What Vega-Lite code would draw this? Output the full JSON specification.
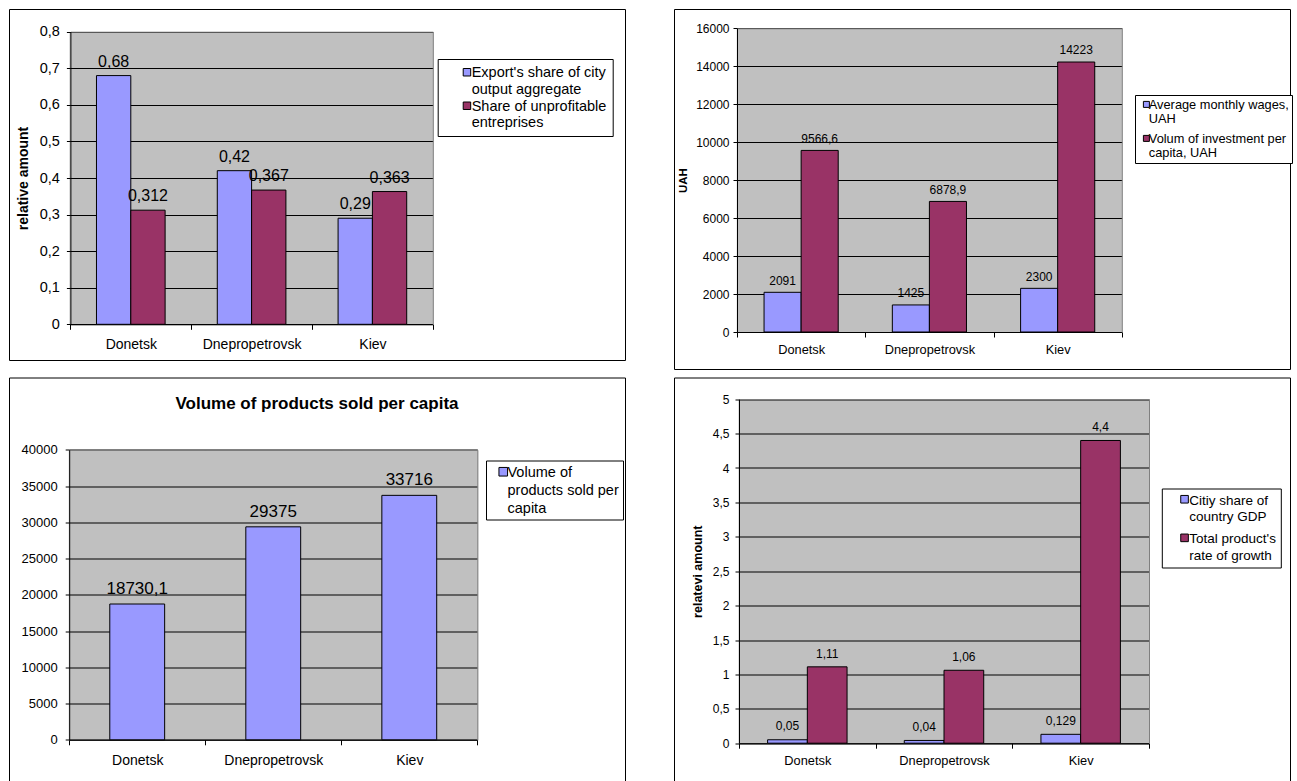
{
  "$schema": "https://vega.github.io/schema/vega-lite/v6.json",
  "padding": {"left": 8, "top": 8, "right": 0, "bottom": -6},
  "spacing": 6.5,
  "resolve": {"scale": {"color": "independent", "x": "independent", "y": "independent", "xOffset": "independent"}, "legend": {"color": "independent"}},
  "vconcat": [
    {
      "bounds": "flush",
      "spacing": 49,
      "resolve": {"scale": {"color": "independent", "x": "independent", "y": "independent", "xOffset": "independent"}, "legend": {"color": "independent"}},
      "hconcat": [
        {
          "width": 616,
          "height": 351,
          "data": {"values": [
            {"city": "Donetsk", "series": "Export's share of city output aggregate", "value": 0.68},
            {"city": "Donetsk", "series": "Share of unprofitable entreprises", "value": 0.312},
            {"city": "Dnepropetrovsk", "series": "Export's share of city output aggregate", "value": 0.42},
            {"city": "Dnepropetrovsk", "series": "Share of unprofitable entreprises", "value": 0.367},
            {"city": "Kiev", "series": "Export's share of city output aggregate", "value": 0.29},
            {"city": "Kiev", "series": "Share of unprofitable entreprises", "value": 0.363}
          ]},
          "layer": [
            {
              "mark": {"type": "bar", "stroke": "black", "strokeWidth": 1},
              "encoding": {
                "x": {"field": "city", "type": "nominal", "sort": ["Donetsk", "Dnepropetrovsk", "Kiev"],
                  "scale": {"range": [61.4, 423.8], "paddingInner": 0, "paddingOuter": 0},
                  "axis": {"orient": "bottom", "offset": -35.7, "title": null, "labelAngle": 0, "tickBand": "extent", "tickSize": 5, "labelPadding": 8, "labelFontSize": 14, "grid": false}},
                "xOffset": {"field": "series", "type": "nominal", "sort": ["Export's share of city output aggregate", "Share of unprofitable entreprises"],
                  "scale": {"paddingInner": 0, "paddingOuter": 0.76}},
                "y": {"field": "value", "type": "quantitative",
                  "scale": {"domain": [0, 0.8], "range": [315.3, 22.7], "nice": false},
                  "axis": {"orient": "left", "offset": -61.4, "title": "relative amount", "titleFontSize": 14, "titleX": -47, "titleBaseline": "middle", "tickCount": 8, "format": "~r", "grid": true, "tickSize": 4, "labelPadding": 7, "labelFontSize": 14.5}},
                "color": {"field": "series", "type": "nominal",
                  "scale": {"domain": ["Export's share of city output aggregate", "Share of unprofitable entreprises"], "range": ["#9999FF", "#993366"]},
                  "legend": {"orient": "none", "legendX": 428.7, "legendY": 50, "title": null, "padding": 6, "symbolSize": 56, "symbolOffset": 16, "labelOffset": -2.5, "labelFontSize": 14.5, "labelBaseline": "top", "rowPadding": 1.5,
                    "labelExpr": "datum.label == \"Export's share of city output aggregate\" ? [\"Export's share of city\", \"output aggregate\"] : [\"Share of unprofitable\", \"entreprises\"]",
                    "encode": {"labels": {"update": {"dy": {"value": -6}, "lineHeight": {"value": 16.7}}}}}}
              }
            },
            {
              "mark": {"type": "text", "fontSize": 16, "baseline": "alphabetic", "dy": -9, "color": "black"},
              "encoding": {
                "x": {"field": "city", "type": "nominal", "sort": ["Donetsk", "Dnepropetrovsk", "Kiev"],
                  "axis": {"orient": "top", "offset": -22.7, "title": null, "labels": false, "ticks": false, "domainColor": "#808080", "grid": true, "gridColor": "#C0C0C0", "gridWidth": 122, "tickBand": "center"}},
                "xOffset": {"field": "series", "type": "nominal", "sort": ["Export's share of city output aggregate", "Share of unprofitable entreprises"]},
                "y": {"field": "value", "type": "quantitative",
                  "axis": {"orient": "right", "offset": -192.2, "title": null, "labels": false, "ticks": false, "grid": false, "domainColor": "#808080"}},
                "text": {"field": "value", "type": "quantitative", "format": "~r"}
              }
            }
          ]
        },
        {
          "width": 616,
          "height": 360,
          "data": {"values": [
            {"city": "Donetsk", "series": "Average monthly wages, UAH", "value": 2091},
            {"city": "Donetsk", "series": "Volum of investment per capita, UAH", "value": 9566.6},
            {"city": "Dnepropetrovsk", "series": "Average monthly wages, UAH", "value": 1425},
            {"city": "Dnepropetrovsk", "series": "Volum of investment per capita, UAH", "value": 6878.9},
            {"city": "Kiev", "series": "Average monthly wages, UAH", "value": 2300},
            {"city": "Kiev", "series": "Volum of investment per capita, UAH", "value": 14223}
          ]},
          "layer": [
            {
              "mark": {"type": "bar", "stroke": "black", "strokeWidth": 1},
              "encoding": {
                "x": {"field": "city", "type": "nominal", "sort": ["Donetsk", "Dnepropetrovsk", "Kiev"],
                  "scale": {"range": [63, 447.8], "paddingInner": 0, "paddingOuter": 0},
                  "axis": {"orient": "bottom", "offset": -37, "title": null, "labelAngle": 0, "tickBand": "extent", "tickSize": 5, "labelPadding": 6.5, "labelFontSize": 12.8, "grid": false}},
                "xOffset": {"field": "series", "type": "nominal", "sort": ["Average monthly wages, UAH", "Volum of investment per capita, UAH"],
                  "scale": {"paddingInner": 0, "paddingOuter": 0.73}},
                "y": {"field": "value", "type": "quantitative",
                  "scale": {"domain": [0, 16000], "range": [323, 19.3], "nice": false},
                  "axis": {"orient": "left", "offset": -63, "title": "UAH", "titleFontSize": 11.5, "titleX": -54, "titleBaseline": "middle", "tickCount": 8, "format": "~r", "grid": true, "tickSize": 4, "labelPadding": 4, "labelFontSize": 12}},
                "color": {"field": "series", "type": "nominal",
                  "scale": {"domain": ["Average monthly wages, UAH", "Volum of investment per capita, UAH"], "range": ["#9999FF", "#993366"]},
                  "legend": {"orient": "none", "legendX": 461, "legendY": 86, "title": null, "padding": 3, "symbolSize": 36, "symbolOffset": 2, "labelOffset": -4, "labelFontSize": 12.8, "labelBaseline": "top", "rowPadding": 6,
                    "labelExpr": "datum.label == 'Average monthly wages, UAH' ? ['Average monthly wages,', 'UAH'] : ['Volum of investment per', 'capita, UAH']",
                    "encode": {"labels": {"update": {"dy": {"value": -5.2}, "lineHeight": {"value": 13.6}}}}}}
              }
            },
            {
              "mark": {"type": "text", "fontSize": 12, "baseline": "alphabetic", "dy": -7.7, "color": "black"},
              "encoding": {
                "x": {"field": "city", "type": "nominal", "sort": ["Donetsk", "Dnepropetrovsk", "Kiev"],
                  "axis": {"orient": "top", "offset": -19.3, "title": null, "labels": false, "ticks": false, "domainColor": "#808080", "grid": true, "gridColor": "#C0C0C0", "gridWidth": 129.5, "tickBand": "center"}},
                "xOffset": {"field": "series", "type": "nominal", "sort": ["Average monthly wages, UAH", "Volum of investment per capita, UAH"]},
                "y": {"field": "value", "type": "quantitative",
                  "axis": {"orient": "right", "offset": -168.2, "title": null, "labels": false, "ticks": false, "grid": false, "domainColor": "#808080"}},
                "text": {"field": "value", "type": "quantitative", "format": "~r"}
              }
            }
          ]
        }
      ]
    },
    {
      "bounds": "flush",
      "spacing": 49,
      "resolve": {"scale": {"color": "independent", "x": "independent", "y": "independent", "xOffset": "independent"}, "legend": {"color": "independent"}},
      "hconcat": [
        {
          "width": 616,
          "height": 410,
          "title": {"text": "Volume of products sold per capita", "fontSize": 17, "anchor": "middle", "frame": "group", "baseline": "middle", "offset": -43.5},
          "data": {"values": [
            {"city": "Donetsk", "series": "Volume of products sold per capita", "value": 18730.1},
            {"city": "Dnepropetrovsk", "series": "Volume of products sold per capita", "value": 29375},
            {"city": "Kiev", "series": "Volume of products sold per capita", "value": 33716}
          ]},
          "layer": [
            {
              "mark": {"type": "bar", "stroke": "black", "strokeWidth": 1},
              "encoding": {
                "x": {"field": "city", "type": "nominal", "sort": ["Donetsk", "Dnepropetrovsk", "Kiev"],
                  "scale": {"range": [60.2, 468.3], "paddingInner": 0, "paddingOuter": 0},
                  "axis": {"orient": "bottom", "offset": -47.7, "title": null, "labelAngle": 0, "tickBand": "extent", "tickSize": 5, "labelPadding": 9, "labelFontSize": 14, "grid": false}},
                "xOffset": {"field": "series", "type": "nominal",
                  "scale": {"paddingInner": 0, "paddingOuter": 0.74}},
                "y": {"field": "value", "type": "quantitative",
                  "scale": {"domain": [0, 40000], "range": [362.3, 72.3], "nice": false},
                  "axis": {"orient": "left", "offset": -60.2, "title": null, "tickCount": 8, "format": "~r", "grid": true, "tickSize": 4, "labelPadding": 8, "labelFontSize": 13}},
                "color": {"field": "series", "type": "nominal",
                  "scale": {"domain": ["Volume of products sold per capita"], "range": ["#9999FF"]},
                  "legend": {"orient": "none", "legendX": 477, "legendY": 83, "title": null, "padding": 4, "symbolSize": 74, "symbolOffset": 6, "labelOffset": -3, "labelFontSize": 14.5, "labelBaseline": "top",
                    "labelExpr": "['Volume of', 'products sold per', 'capita']",
                    "encode": {"labels": {"update": {"dy": {"value": -6}, "lineHeight": {"value": 18}}}}}}
              }
            },
            {
              "mark": {"type": "text", "fontSize": 17, "baseline": "alphabetic", "dy": -10.3, "color": "black"},
              "encoding": {
                "x": {"field": "city", "type": "nominal", "sort": ["Donetsk", "Dnepropetrovsk", "Kiev"],
                  "axis": {"orient": "top", "offset": -72.3, "title": null, "labels": false, "ticks": false, "domainColor": "#808080", "grid": true, "gridColor": "#C0C0C0", "gridWidth": 137.5, "tickBand": "center"}},
                "xOffset": {"field": "series", "type": "nominal"},
                "y": {"field": "value", "type": "quantitative",
                  "axis": {"orient": "right", "offset": -147.7, "title": null, "labels": false, "ticks": false, "grid": false, "domainColor": "#808080"}},
                "text": {"field": "value", "type": "quantitative", "format": "~r"}
              }
            }
          ]
        },
        {
          "width": 616,
          "height": 410,
          "data": {"values": [
            {"city": "Donetsk", "series": "Citiy share of country GDP", "value": 0.05},
            {"city": "Donetsk", "series": "Total product's rate of growth", "value": 1.11},
            {"city": "Dnepropetrovsk", "series": "Citiy share of country GDP", "value": 0.04},
            {"city": "Dnepropetrovsk", "series": "Total product's rate of growth", "value": 1.06},
            {"city": "Kiev", "series": "Citiy share of country GDP", "value": 0.129},
            {"city": "Kiev", "series": "Total product's rate of growth", "value": 4.4}
          ]},
          "layer": [
            {
              "mark": {"type": "bar", "stroke": "black", "strokeWidth": 1},
              "encoding": {
                "x": {"field": "city", "type": "nominal", "sort": ["Donetsk", "Dnepropetrovsk", "Kiev"],
                  "scale": {"range": [65, 475], "paddingInner": 0, "paddingOuter": 0},
                  "axis": {"orient": "bottom", "offset": -44.3, "title": null, "labelAngle": 0, "tickBand": "extent", "tickSize": 5, "labelPadding": 6, "labelFontSize": 12.8, "grid": false}},
                "xOffset": {"field": "series", "type": "nominal", "sort": ["Citiy share of country GDP", "Total product's rate of growth"],
                  "scale": {"paddingInner": 0, "paddingOuter": 0.72}},
                "y": {"field": "value", "type": "quantitative",
                  "scale": {"domain": [0, 5], "range": [365.7, 21.7], "nice": false},
                  "axis": {"orient": "left", "offset": -65, "title": "relatevi amount", "titleFontSize": 12.5, "titleX": -42, "titleBaseline": "middle", "tickCount": 10, "format": "~r", "grid": true, "tickSize": 4, "labelPadding": 6, "labelFontSize": 12}},
                "color": {"field": "series", "type": "nominal",
                  "scale": {"domain": ["Citiy share of country GDP", "Total product's rate of growth"], "range": ["#9999FF", "#993366"]},
                  "legend": {"orient": "none", "legendX": 487.8, "legendY": 111, "title": null, "padding": 4, "symbolSize": 58, "symbolOffset": 12, "labelOffset": -2, "labelFontSize": 13.5, "labelBaseline": "top", "rowPadding": 6.6,
                    "labelExpr": "datum.label == 'Citiy share of country GDP' ? ['Citiy share of', 'country GDP'] : [\"Total product's\", 'rate of growth']",
                    "encode": {"labels": {"update": {"dy": {"value": -5.5}, "lineHeight": {"value": 16.7}}}}}}
              }
            },
            {
              "mark": {"type": "text", "fontSize": 12, "baseline": "alphabetic", "dy": -9.3, "color": "black"},
              "encoding": {
                "x": {"field": "city", "type": "nominal", "sort": ["Donetsk", "Dnepropetrovsk", "Kiev"],
                  "axis": {"orient": "top", "offset": -21.7, "title": null, "labels": false, "ticks": false, "domainColor": "#808080", "grid": true, "gridColor": "#C0C0C0", "gridWidth": 138, "tickBand": "center"}},
                "xOffset": {"field": "series", "type": "nominal", "sort": ["Citiy share of country GDP", "Total product's rate of growth"]},
                "y": {"field": "value", "type": "quantitative",
                  "axis": {"orient": "right", "offset": -141, "title": null, "labels": false, "ticks": false, "grid": false, "domainColor": "#808080"}},
                "text": {"field": "value", "type": "quantitative", "format": "~r"}
              }
            }
          ]
        }
      ]
    }
  ],
  "config": {
    "font": "Liberation Sans",
    "locale": {"number": {"decimal": ",", "thousands": "", "grouping": [3], "currency": ["", ""]}},
    "view": {"stroke": "black", "strokeWidth": 1, "fill": "white"},
    "axis": {"labelColor": "black", "domainColor": "black", "tickColor": "black", "titleColor": "black", "gridColor": "black", "gridOpacity": 1, "gridWidth": 1, "domainWidth": 1, "tickWidth": 1, "labelFont": "Liberation Sans", "titleFont": "Liberation Sans", "titleFontWeight": "bold"},
    "legend": {"labelColor": "black", "labelFont": "Liberation Sans", "strokeColor": "black", "fillColor": "white", "symbolType": "square", "symbolStrokeColor": "black", "symbolStrokeWidth": 1, "symbolOpacity": 1, "labelLimit": 400},
    "title": {"font": "Liberation Sans", "color": "black", "fontWeight": "bold"}
  }
}
